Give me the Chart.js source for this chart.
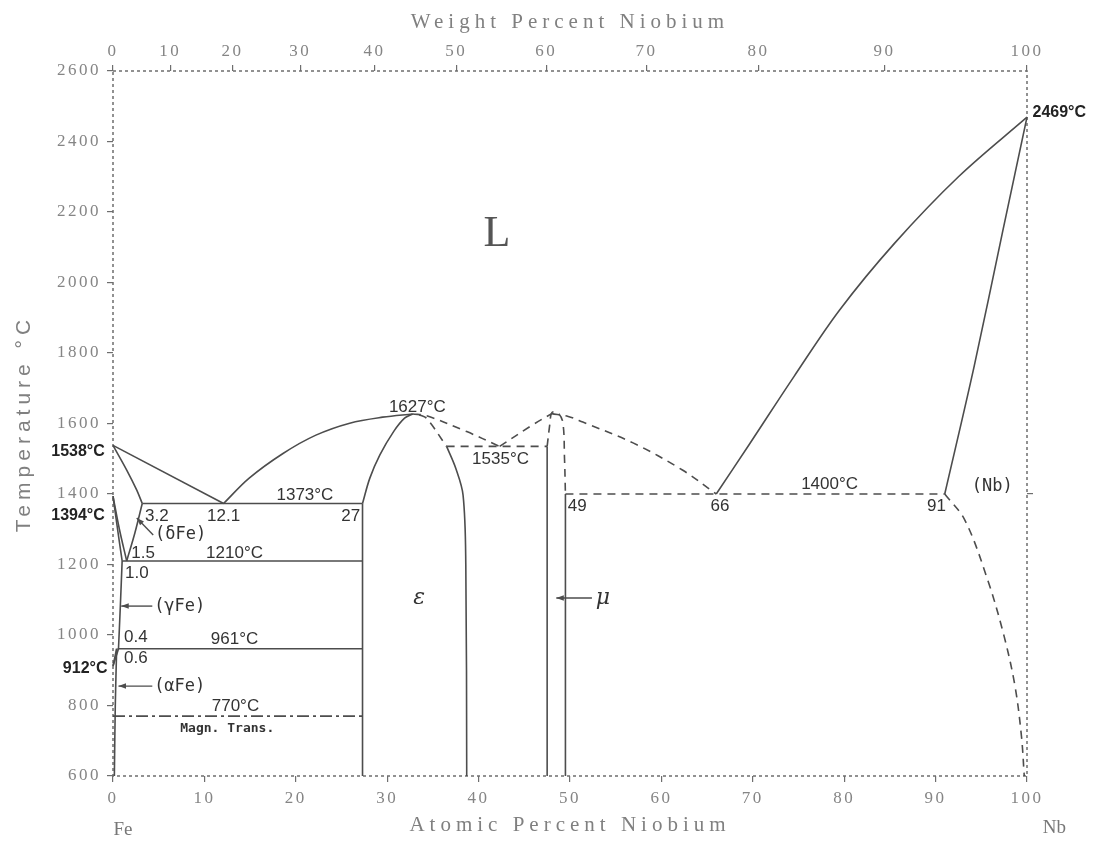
<!DOCTYPE html>
<html>
<head>
<meta charset="utf-8">
<title>Fe-Nb phase diagram</title>
<script src="https://cdn.jsdelivr.net/npm/chart.js"></script>
<style>
  html, body { margin: 0; padding: 0; background: #fff; }
  canvas { display: block; }
</style>
</head>
<body>
<canvas id="phaseChart" width="1095" height="841"></canvas>
<script>
// tick labels
const atTicks = [0, 10, 20, 30, 40, 50, 60, 70, 80, 90, 100];
const wtTicks = [0, 10, 20, 30, 40, 50, 60, 70, 80, 90, 100];
const tempTicks = [600, 800, 1000, 1200, 1400, 1600, 1800, 2000, 2200, 2400, 2600];
const rightTicks = [1400];

// phase boundaries, each point is [at.% Nb, temperature °C]
const liquidusFe = [[0, 1538], [12.1, 1373]];
const solidusDelta = [[0, 1538], [1.5, 1468], [2.6, 1411], [3.2, 1373]];
const solvusDelta = [[3.2, 1373], [2.4, 1290], [1.5, 1210]];
const loopDelta = [[0, 1394], [0.7, 1300], [1.5, 1210]];
const loopGamma = [[0, 1394], [0.5, 1300], [1.0, 1210]];
const solvusGamma = [[1.0, 1210], [0.8, 1080], [0.6, 961]];
const loopAlpha1 = [[0, 912], [0.4, 961]];
const loopAlpha2 = [[0, 912], [0.6, 961]];
const solvusAlpha = [[0.4, 961], [0.25, 800], [0.15, 600]];
const eutectic1373 = [[3.2, 1373], [27.3, 1373]];
const eutectoid1210 = [[1.0, 1210], [27.3, 1210]];
const line961 = [[0.5, 961], [27.3, 961]];
const magnetic770 = [[0, 770], [27.3, 770]];
const liquidusEps = [[12.1, 1373], [14.9, 1445], [18.6, 1515], [22.2, 1567], [25.9, 1601], [29.5, 1618], [32.8, 1627]];
const epsLeftLow = [[27.3, 600], [27.3, 1373]];
const epsLeftHigh = [[27.3, 1373], [28.1, 1445], [29.2, 1511], [30.7, 1577], [31.9, 1615], [32.8, 1627]];
const epsRightHigh = [[33.5, 1625], [34.3, 1615], [36.5, 1535]];
const epsRightLow = [[36.5, 1535], [37.5, 1473], [38.3, 1397], [38.6, 1200], [38.7, 600]];
const liquidusEpsMu1 = [[32.8, 1627], [34.3, 1622], [38.7, 1577], [42.3, 1535]];
const liquidusEpsMu2 = [[42.3, 1535], [45.9, 1596], [48.0, 1628]];
const eutectic1535 = [[36.5, 1535], [47.5, 1535]];
const muLeft = [[47.5, 600], [47.5, 1535]];
const muRight = [[49.5, 600], [49.5, 1400]];
const muTop = [[47.5, 1535], [47.8, 1600], [48.0, 1630], [48.6, 1632], [49.2, 1605], [49.4, 1500], [49.5, 1400]];
const liquidusMu = [[48.0, 1628], [49.8, 1620], [51.4, 1604], [56.9, 1545], [62.3, 1468], [66, 1400]];
const eutectic1400 = [[49.5, 1400], [91, 1400]];
const liquidusNb = [[66, 1400], [69.7, 1544], [74.5, 1733], [79.5, 1922], [85.5, 2111], [92.5, 2300], [100, 2469]];
const solidusNb = [[91, 1400], [94.2, 1760], [97.3, 2140], [100, 2469]];
const solvusNb = [[91, 1400], [93.2, 1326], [95.7, 1156], [97.5, 996], [98.7, 853], [99.4, 711], [99.7, 600]];

// text on the diagram: [text, at.% Nb, °C, style, align]
const notes = [
    ['L', 42, 2135, 'big'],
    ['1538°C', -0.9, 1519, 'bold', 'right'],
    ['1394°C', -0.9, 1340, 'bold', 'right'],
    ['912°C', -0.6, 906, 'bold', 'right'],
    ['2469°C', 100.6, 2481, 'bold', 'left'],
    ['1627°C', 33.3, 1647, 'num'],
    ['1535°C', 42.4, 1499, 'num'],
    ['1373°C', 21.0, 1397, 'num'],
    ['12.1', 12.1, 1338, 'num'],
    ['27', 26.0, 1338, 'num'],
    ['3.2', 4.8, 1338, 'num'],
    ['(δFe)', 7.4, 1284, 'phase'],
    ['1.5', 3.3, 1233, 'num'],
    ['1210°C', 13.3, 1233, 'num'],
    ['1.0', 2.6, 1176, 'num'],
    ['(γFe)', 7.3, 1082, 'phase'],
    ['0.4', 2.5, 994, 'num'],
    ['961°C', 13.3, 989, 'num'],
    ['0.6', 2.5, 935, 'num'],
    ['(αFe)', 7.3, 855, 'phase'],
    ['770°C', 13.4, 799, 'num'],
    ['Magn. Trans.', 12.5, 733, 'small'],
    ['ε', 33.5, 1105, 'greek'],
    ['μ', 53.6, 1105, 'greek'],
    ['49', 50.8, 1366, 'num'],
    ['66', 66.4, 1366, 'num'],
    ['1400°C', 78.4, 1428, 'num'],
    ['91', 90.1, 1366, 'num'],
    ['(Nb)', 96.2, 1420, 'phase'],
    ['Fe', 1.1, 447, 'axis'],
    ['Nb', 103, 452, 'axis']
];

// pointer arrows: [from x, from T, to x, to T]
const arrows = [
    [4.4, 1284, 2.6, 1332],
    [4.3, 1082, 0.9, 1082],
    [4.3, 855, 0.6, 855],
    [52.4, 1105, 48.5, 1105]
];

const noteStyles = {
    big: ['44px "Liberation Serif"', '#555'],
    bold: ['bold 16px "Liberation Sans"', '#222'],
    num: ['17px "Liberation Sans"', '#333'],
    phase: ['17px "DejaVu Sans Mono"', '#333'],
    small: ['bold 13px "DejaVu Sans Mono"', '#333'],
    greek: ['italic 22px "DejaVu Serif"', '#333'],
    axis: ['19px "Liberation Serif"', '#777']
};

const lineColor = '#4d4d4d';
const axisColor = '#6e6e6e';
const tickColor = '#858585';

// weight percent -> atomic percent Nb
function wtToAt(w) {
    const nb = w / 92.906, fe = (100 - w) / 55.845;
    return 100 * nb / (nb + fe);
}

function boundary(points, dash, curved) {
    return {
        data: points.map(p => ({x: p[0], y: p[1]})),
        showLine: true,
        pointRadius: 0,
        borderColor: lineColor,
        borderWidth: 1.6,
        borderDash: dash,
        tension: curved ? 0.35 : 0,
        fill: false,
        clip: false,
        xAxisID: 'x',
        yAxisID: 'y'
    };
}

const solid = [];
const dashed = [8, 6];
const dashDot = [12, 4, 3, 4];

const datasets = [
    boundary(liquidusFe, solid, false),
    boundary(solidusDelta, solid, true),
    boundary(solvusDelta, solid, true),
    boundary(loopDelta, solid, true),
    boundary(loopGamma, solid, true),
    boundary(solvusGamma, solid, true),
    boundary(loopAlpha1, solid, false),
    boundary(loopAlpha2, solid, false),
    boundary(solvusAlpha, solid, true),
    boundary(eutectic1373, solid, false),
    boundary(eutectoid1210, solid, false),
    boundary(line961, solid, false),
    boundary(magnetic770, dashDot, false),
    boundary(liquidusEps, solid, true),
    boundary(epsLeftLow, solid, false),
    boundary(epsLeftHigh, solid, true),
    boundary(epsRightHigh, dashed, true),
    boundary(epsRightLow, solid, true),
    boundary(liquidusEpsMu1, dashed, true),
    boundary(liquidusEpsMu2, dashed, true),
    boundary(eutectic1535, dashed, false),
    boundary(muLeft, solid, false),
    boundary(muRight, solid, false),
    boundary(muTop, dashed, true),
    boundary(liquidusMu, dashed, true),
    boundary(eutectic1400, dashed, false),
    boundary(liquidusNb, solid, true),
    boundary(solidusNb, solid, true),
    boundary(solvusNb, dashed, true)
];

const tickFont = {family: 'Liberation Serif', size: 17};
const gridOpts = {drawOnChartArea: false, drawTicks: true, tickLength: 6, color: axisColor, lineWidth: 1.2};
const borderOpts = {display: false};

// letter spacing: wide for axis titles, a bit for tick labels, none for the rest
const spacing = {
    id: 'spacing',
    beforeDraw(chart) { chart.ctx.letterSpacing = '5px'; },
    beforeDatasetsDraw(chart) { chart.ctx.letterSpacing = '0px'; },
    afterDatasetsDraw(chart) { chart.ctx.letterSpacing = '2.5px'; },
    afterDraw(chart) { chart.ctx.letterSpacing = '0px'; }
};

// dotted frame around the plot, like the plotter output
const frame = {
    id: 'frame',
    beforeDatasetsDraw(chart) {
        const {ctx, chartArea: a} = chart;
        ctx.save();
        ctx.strokeStyle = axisColor;
        ctx.lineWidth = 1.5;
        ctx.setLineDash([3, 3]);
        ctx.strokeRect(a.left, a.top, a.right - a.left, a.bottom - a.top);
        ctx.restore();
    }
};

const annotate = {
    id: 'annotate',
    afterDraw(chart) {
        const ctx = chart.ctx;
        const xs = chart.scales.x, ys = chart.scales.y;
        ctx.save();
        ctx.letterSpacing = '0px';
        ctx.textBaseline = 'middle';
        notes.forEach(n => {
            const st = noteStyles[n[3]];
            ctx.font = st[0];
            ctx.fillStyle = st[1];
            ctx.textAlign = n[4] || 'center';
            ctx.fillText(n[0], xs.getPixelForValue(n[1]), ys.getPixelForValue(n[2]));
        });
        ctx.strokeStyle = lineColor;
        ctx.fillStyle = lineColor;
        ctx.lineWidth = 1.4;
        arrows.forEach(a => {
            const x1 = xs.getPixelForValue(a[0]), y1 = ys.getPixelForValue(a[1]);
            const x2 = xs.getPixelForValue(a[2]), y2 = ys.getPixelForValue(a[3]);
            const ang = Math.atan2(y2 - y1, x2 - x1);
            ctx.beginPath();
            ctx.moveTo(x1, y1);
            ctx.lineTo(x2, y2);
            ctx.stroke();
            ctx.beginPath();
            ctx.moveTo(x2, y2);
            ctx.lineTo(x2 - 8 * Math.cos(ang - 0.35), y2 - 8 * Math.sin(ang - 0.35));
            ctx.lineTo(x2 - 8 * Math.cos(ang + 0.35), y2 - 8 * Math.sin(ang + 0.35));
            ctx.closePath();
            ctx.fill();
        });
        ctx.restore();
    }
};

new Chart(document.getElementById('phaseChart'), {
    type: 'scatter',
    data: {datasets: datasets},
    plugins: [spacing, frame, annotate],
    options: {
        responsive: false,
        animation: false,
        devicePixelRatio: 1,
        events: [],
        plugins: {
            legend: {display: false},
            tooltip: {enabled: false}
        },
        scales: {
            x: {
                type: 'linear',
                position: 'bottom',
                min: 0,
                max: 100,
                afterBuildTicks: s => { s.ticks = atTicks.map(v => ({value: v})); },
                afterFit: s => { s.height = 65; },
                ticks: {
                    font: tickFont, color: tickColor, padding: 6, autoSkip: false, maxRotation: 0, z: 1,
                    callback: v => String(v)
                },
                grid: gridOpts,
                border: borderOpts,
                title: {
                    display: true,
                    text: 'Atomic Percent Niobium',
                    font: {family: 'Liberation Serif', size: 21},
                    color: '#808080',
                    padding: {top: 0, bottom: 3}
                }
            },
            xTop: {
                type: 'linear',
                position: 'top',
                min: 0,
                max: 100,
                afterBuildTicks: s => { s.ticks = wtTicks.map(w => ({value: wtToAt(w)})); },
                afterFit: s => { s.height = 71; },
                ticks: {
                    font: tickFont, color: tickColor, padding: 3, autoSkip: false, maxRotation: 0, z: 1,
                    callback: (v, i) => String(wtTicks[i])
                },
                grid: gridOpts,
                border: borderOpts,
                title: {
                    display: true,
                    text: 'Weight Percent Niobium',
                    font: {family: 'Liberation Serif', size: 21},
                    color: '#808080',
                    padding: {top: 10, bottom: 0}
                }
            },
            y: {
                type: 'linear',
                position: 'left',
                min: 600,
                max: 2600,
                afterBuildTicks: s => { s.ticks = tempTicks.map(v => ({value: v})); },
                afterFit: s => { s.width = 113; },
                ticks: {
                    font: tickFont, color: tickColor, padding: 6, autoSkip: false, z: 1,
                    callback: v => String(v)
                },
                grid: gridOpts,
                border: borderOpts,
                title: {
                    display: true,
                    text: 'Temperature °C',
                    font: {family: 'Liberation Sans', size: 21},
                    color: '#808080',
                    padding: {top: 12, bottom: 0}
                }
            },
            yRight: {
                type: 'linear',
                position: 'right',
                min: 600,
                max: 2600,
                afterBuildTicks: s => { s.ticks = rightTicks.map(v => ({value: v})); },
                afterFit: s => { s.width = 68; },
                ticks: {callback: () => '', z: 1},
                grid: gridOpts,
                border: borderOpts
            }
        }
    }
});
</script>
</body>
</html>
